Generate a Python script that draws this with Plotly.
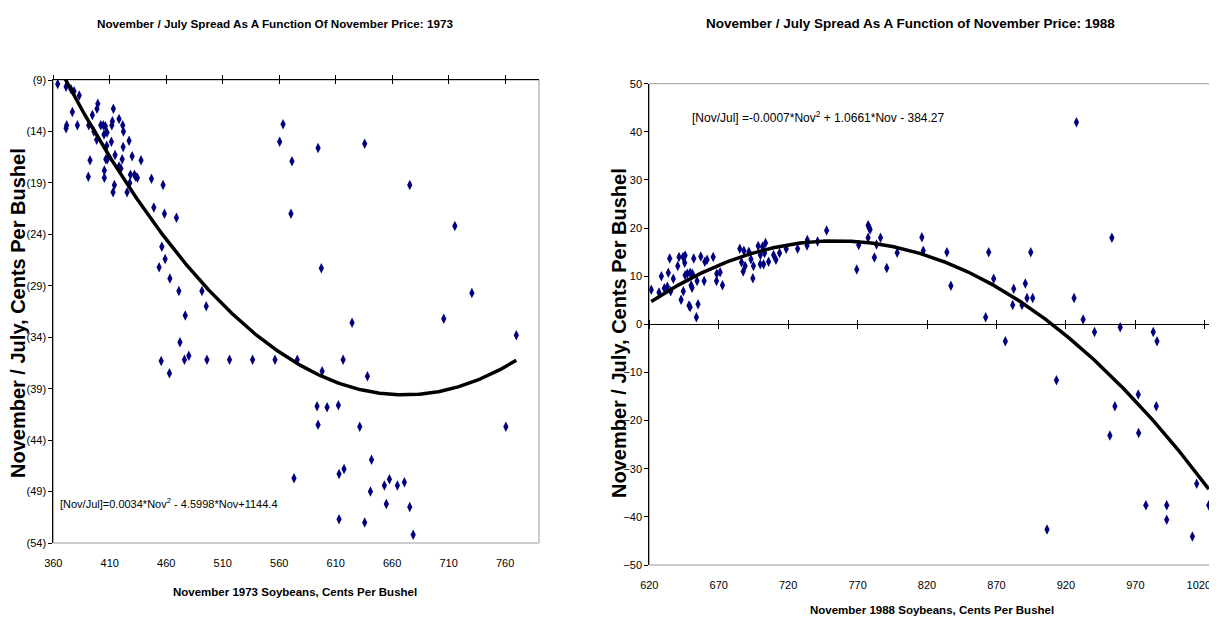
import numpy as np
import plotly.graph_objects as go

# ---------------- Data: 1973 (left) ----------------
nov_1973 = [363.9, 371.3, 375.7, 378.4, 383.0, 376.9, 371.3, 371.8, 381.3, 391.4, 394.6, 399.4, 398.7,
            402.0, 404.3, 406.1, 396.0, 398.4, 404.9, 407.6, 411.8, 412.3, 413.2, 418.2, 421.5, 422.1,
            411.4, 407.3, 427.1, 421.8, 414.7, 406.5, 407.9, 392.5, 421.0, 429.8, 437.7, 418.2, 419.8,
            405.2, 405.2, 391.0, 428.3, 431.8, 433.0, 434.5, 427.7, 414.1, 412.9, 425.3, 446.9, 457.2,
            449.0, 458.4, 469.0, 456.1, 459.0, 453.7, 463.2, 471.2, 491.6, 495.4, 476.8, 472.1, 455.5,
            462.8, 476.1, 480.0, 496.0, 516.0, 536.4, 556.3, 576.0, 573.1, 593.5, 594.4, 560.4, 563.4,
            571.3, 570.4, 594.4, 635.7, 675.6, 715.5, 597.3, 730.6, 624.5, 705.7, 769.9, 616.6, 598.0,
            638.1, 602.4, 612.4, 631.3, 760.7, 641.7, 617.4, 613.0, 640.8, 657.6, 653.1, 664.6, 670.8,
            654.8, 675.6, 613.0, 635.7, 678.6]
spread_1973 = [-9.4, -9.65, -9.9, -10.1, -10.5, -12.1, -13.7, -13.4, -13.4, -13.4, -12.4, -11.3, -11.8,
               -13.4, -13.4, -13.5, -14.0, -14.8, -14.3, -14.1, -13.4, -13.0, -11.8, -12.8, -13.4, -14.0,
               -15.0, -15.4, -14.9, -15.5, -16.3, -16.7, -16.7, -16.8, -16.7, -16.4, -16.8, -17.4, -17.6,
               -17.8, -18.5, -18.4, -18.2, -18.2, -18.4, -18.5, -19.0, -19.2, -19.9, -19.9, -18.6, -19.2,
               -21.4, -22.0, -22.4, -25.2, -26.4, -27.2, -28.3, -29.5, -29.5, -31.0, -31.9, -34.5, -36.3,
               -37.5, -36.2, -35.8, -36.2, -36.2, -36.2, -36.2, -36.2, -47.7, -40.7, -42.5, -15.0, -13.3,
               -16.9, -22.0, -15.6, -15.2, -19.2, -23.2, -27.3, -29.7, -32.6, -32.2, -33.8, -36.2, -37.3,
               -37.8, -40.8, -40.6, -42.7, -42.7, -45.9, -46.8, -47.3, -49.0, -47.8, -48.4, -48.4, -48.1,
               -50.2, -50.5, -51.7, -52.0, -53.2]

# ---------------- Data: 1988 (right) ----------------
nov_1988 = [621.4, 627.0, 628.7, 630.8, 633.0, 633.7, 634.7, 635.4, 637.3, 640.5, 641.4, 644.3, 645.8,
            642.9, 644.5, 645.5, 645.8, 647.4, 649.4, 651.0, 650.1, 650.8, 652.0, 649.4, 648.6, 655.1,
            653.9, 654.4, 657.1, 659.5, 660.0, 661.6, 666.0, 668.4, 668.6, 671.0, 672.7, 685.2, 686.4,
            688.1, 689.0, 687.6, 691.7, 693.2, 694.6, 695.0, 698.4, 699.9, 700.0, 702.3, 701.5, 703.7,
            703.0, 705.9, 709.5, 711.2, 713.8, 718.6, 726.8, 733.6, 733.8, 741.2, 747.7, 769.4, 770.8,
            777.6, 778.3, 779.0, 777.6, 782.1, 783.6, 786.5, 791.0, 798.5, 816.3, 817.3, 834.3, 837.2,
            862.2, 864.4, 868.0, 876.4, 881.7, 882.4, 888.4, 890.8, 892.0, 896.1, 894.7, 925.9, 927.6,
            932.4, 940.6, 953.1, 959.1, 982.9, 985.6, 913.2, 972.1, 955.3, 985.1, 951.7, 972.4, 1014.2,
            977.6, 992.6, 992.6, 1022.9, 906.4, 1011.1]
spread_1988 = [7.2, 6.6, 10.0, 7.5, 7.8, 10.7, 13.7, 6.9, 9.5, 12.1, 14.0, 14.0, 14.3,
               5.1, 6.9, 12.8, 10.2, 10.5, 10.7, 10.5, 8.1, 7.6, 13.7, 3.6, 3.9, 4.2,
               1.5, 9.0, 14.1, 9.0, 13.0, 13.4, 14.0, 9.0, 10.5, 10.8, 8.1, 15.7, 12.9,
               15.3, 12.1, 11.0, 15.1, 13.5, 9.6, 12.1, 16.3, 12.5, 14.4, 12.5, 16.1, 16.9,
               14.8, 13.0, 14.4, 13.4, 14.8, 15.7, 15.7, 16.4, 17.5, 17.2, 19.5, 11.4, 16.5,
               20.6, 20.1, 19.7, 18.0, 13.9, 16.6, 18.0, 11.7, 14.9, 18.1, 15.3, 15.0, 8.0,
               1.5, 15.0, 9.5, -3.5, 4.0, 7.4, 4.0, 8.5, 5.5, 5.5, 15.0, 5.5, 42.0,
               1.0, -1.6, 18.0, -0.6, -1.6, -3.5, -11.6, -14.6, -17.0, -17.0, -23.1, -22.6, -33.1,
               -37.6, -37.6, -40.6, -37.6, -42.6, -44.1]

# Axis ticks
left_yticks = [-9, -14, -19, -24, -29, -34, -39, -44, -49, -54]
left_yticklabels = ["(9)", "(14)", "(19)", "(24)", "(29)", "(34)", "(39)", "(44)", "(49)", "(54)"]
left_xticks = [360, 410, 460, 510, 560, 610, 660, 710, 760]
right_yticks = [-50, -40, -30, -20, -10, 0, 10, 20, 30, 40, 50]
right_xticks = [620, 670, 720, 770, 820, 870, 920, 970, 1020]

left_title = "November / July Spread As A Function Of November Price: 1973"
right_title = "November / July Spread As A Function of November Price: 1988"
left_eq = "[Nov/Jul]=0.0034*Nov<sup>2</sup> - 4.5998*Nov+1144.4"
right_eq = "[Nov/Jul] =-0.0007*Nov<sup>2</sup> + 1.0661*Nov - 384.27"

# Polynomial (order 2) trendlines, as in the spreadsheet
def trend(x, y):
    c = np.polyfit(x, y, 2)
    xs = np.linspace(min(x), max(x), 300)
    return xs, np.polyval(c, xs)

tx1, ty1 = trend(nov_1973, spread_1973)
tx2, ty2 = trend(nov_1988, spread_1988)

# page body has an 8px margin: work in window pixels and shift into figure pixels
OFF = 8
W, H = 1217 - OFF, 624 - 2 * OFF
L = dict(x0=53.3, x1=539.0, y0=80.0, y1=543.0)
R = dict(x0=649.3, x1=1211.7, y0=83.7, y1=565.0)
def fx(px): return (px - OFF) / W
def fy(py): return 1 - (py - OFF) / H
def xd(a): return [fx(a["x0"]), fx(a["x1"])]
def yd(a): return [fy(a["y1"]), fy(a["y0"])]

NAVY = "#000080"
FONT = "Liberation Sans, Arial, sans-serif"

fig = go.Figure()
mk = dict(symbol="diamond-tall", size=7.5, color=NAVY, line=dict(width=0))
fig.add_trace(go.Scatter(x=nov_1973, y=spread_1973, mode="markers", marker=mk, xaxis="x", yaxis="y", showlegend=False))
fig.add_trace(go.Scatter(x=tx1, y=ty1, mode="lines", line=dict(color="black", width=3.5), xaxis="x", yaxis="y", showlegend=False))
fig.add_trace(go.Scatter(x=nov_1988, y=spread_1988, mode="markers", marker=mk, xaxis="x2", yaxis="y2", showlegend=False))
fig.add_trace(go.Scatter(x=tx2, y=ty2, mode="lines", line=dict(color="black", width=3.5), xaxis="x2", yaxis="y2", showlegend=False))
# invisible carriers so the overlay axes (crossing axis lines with ticks) get drawn
for xa, xs_, ys_, ya in (("x3", nov_1973, spread_1973, "y"), ("x5", nov_1973, spread_1973, "y"),
                         ("x4", nov_1988, spread_1988, "y2"), ("x6", nov_1988, spread_1988, "y2"),
                         ("x7", nov_1988, spread_1988, "y2")):
    fig.add_trace(go.Scatter(x=xs_, y=ys_, mode="markers", marker=dict(opacity=0), xaxis=xa, yaxis=ya,
                             showlegend=False, hoverinfo="skip"))

tickfont = dict(family=FONT, size=11, color="black")
xr1 = [360, 790]
xr2 = [620, 1025]
common = dict(showgrid=False, zeroline=False, automargin=False)

fig.update_layout(
    width=W, height=H, margin=dict(l=0, r=0, t=0, b=0, autoexpand=False),
    paper_bgcolor="white", plot_bgcolor="white",
    font=dict(family=FONT, color="black"),
    xaxis=dict(domain=xd(L), range=xr1, tickvals=left_xticks, showline=False, ticks="",
               tickfont=tickfont, anchor="y", ticklabelstandoff=12, ticklabeloverflow="allow", **common),
    yaxis=dict(domain=yd(L), range=[-54, -9], tickvals=left_yticks, ticktext=left_yticklabels,
               showline=True, linecolor="black", linewidth=1, ticklabeloverflow="allow",
               ticks="outside", ticklen=4, tickcolor="black", tickfont=tickfont, anchor="x", **common),
    # top axis line of left chart with crossing ticks
    xaxis3=dict(overlaying="x", anchor="y", side="top", range=xr1, tickvals=left_xticks,
                showticklabels=False, showline=True, linecolor="black",
                ticks="outside", ticklen=4, tickcolor="black", **common),
    xaxis5=dict(overlaying="x", anchor="y", side="top", range=xr1, tickvals=left_xticks,
                showticklabels=False, showline=False,
                ticks="inside", ticklen=4, tickcolor="black", **common),
    xaxis2=dict(domain=xd(R), range=xr2, tickvals=right_xticks[:-1], showline=False, ticks="",
                tickfont=tickfont, anchor="y2", ticklabelstandoff=12, ticklabeloverflow="allow", **common),
    # last label of the right chart, nudged inward so it stays inside the page
    xaxis7=dict(overlaying="x2", anchor="y2", side="bottom", range=xr2, tickvals=right_xticks[-1:],
                showline=False, ticks="", tickfont=tickfont, ticklabelstandoff=12, ticklabelshift=-6,
                ticklabeloverflow="allow", **common),
    yaxis2=dict(domain=yd(R), range=[-50, 50], tickvals=right_yticks, ticklabeloverflow="allow",
                showline=True, linecolor="black", linewidth=1, ticks="outside", ticklen=4,
                tickcolor="black", tickfont=tickfont, anchor="x2", **common),
    # zero-crossing axis of right chart
    xaxis4=dict(overlaying="x2", anchor="free", position=sum(yd(R)) / 2, side="bottom", range=xr2,
                tickvals=right_xticks, showticklabels=False,
                showline=True, linecolor="black", ticks="outside", ticklen=4, tickcolor="black", **common),
    xaxis6=dict(overlaying="x2", anchor="free", position=sum(yd(R)) / 2, side="top", range=xr2,
                tickvals=right_xticks, showticklabels=False,
                showline=False, ticks="outside", ticklen=4, tickcolor="black", **common),
)

# plot-area borders (gray)
for xr, yr in (("x domain", "y domain"), ("x2 domain", "y2 domain")):
    fig.add_shape(type="rect", xref=xr, yref=yr, x0=0, x1=1, y0=0, y1=1,
                  line=dict(color="#9a9a9a", width=1), layer="below")

def ann(text, x, y, size, bold=False, angle=0, xanchor="center"):
    t = f"<b>{text}</b>" if bold else text
    fig.add_annotation(text=t, x=fx(x), y=fy(y), xref="paper", yref="paper", showarrow=False,
                       font=dict(family=FONT, size=size, color="black"), textangle=angle,
                       xanchor=xanchor, yanchor="middle")

ann(left_title, 275, 23, 11.7, bold=True)
ann(right_title, 910, 24, 13.5, bold=True)
ann("November 1973 Soybeans, Cents Per Bushel", 295, 592, 11.5, bold=True)
ann("November 1988 Soybeans, Cents Per Bushel", 932, 610, 11.5, bold=True)
ann("November / July, Cents Per Bushel", 18, 313, 20, bold=True, angle=-90)
ann("November / July, Cents Per Bushel", 619, 333, 20, bold=True, angle=-90)
ann(left_eq, 58, 503, 11, xanchor="left")
ann(right_eq, 690, 117, 12, xanchor="left")

fig.write_html("out.html")
